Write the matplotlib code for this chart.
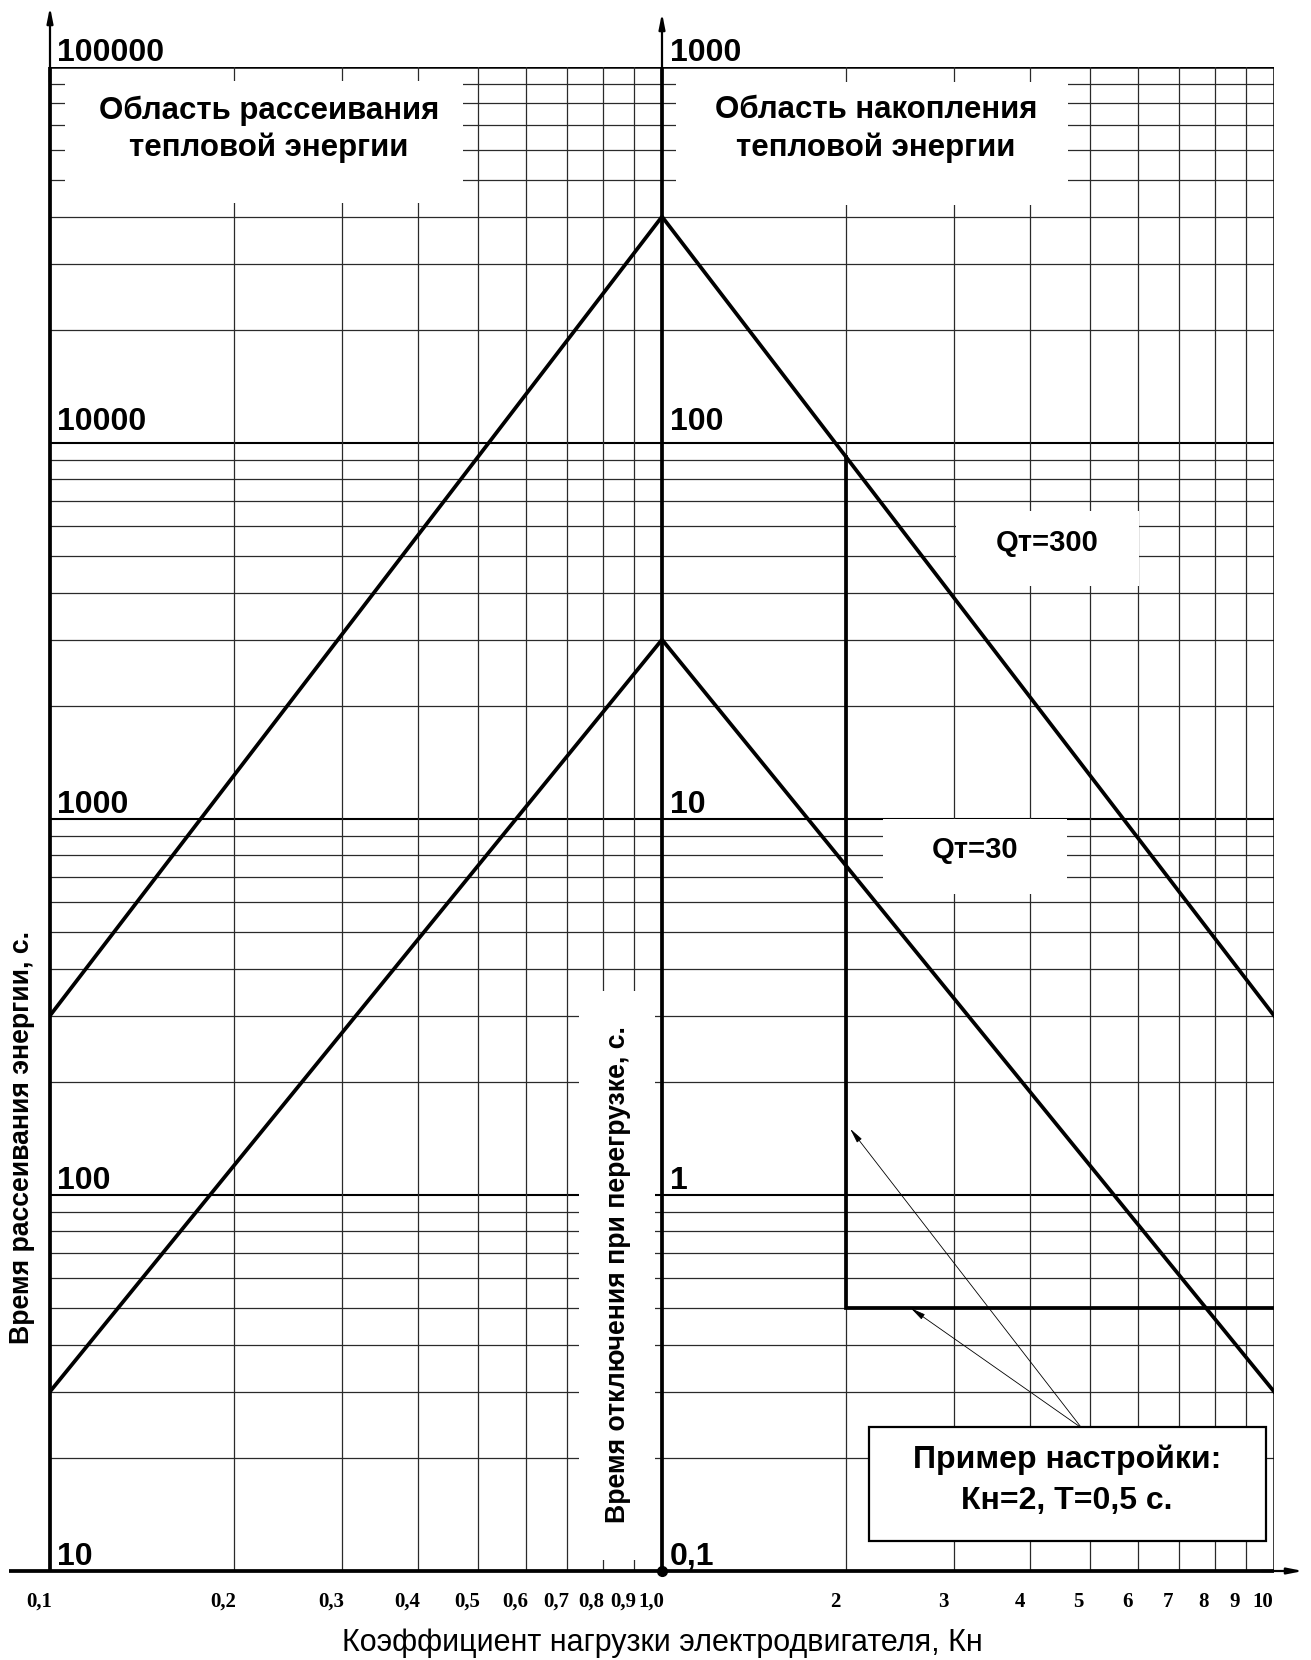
import numpy as np
import matplotlib.pyplot as plt
import matplotlib.transforms as mtransforms
from matplotlib.patches import Rectangle

plt.rcParams['font.family'] = ['Liberation Sans', 'DejaVu Sans']

# --- data -------------------------------------------------------------
kn = [0.1, 1.0, 10.0]
t_q300 = [3.0, 400.0, 3.0]      # seconds, right-hand scale
t_q30 = [0.3, 30.0, 0.3]
example_kn = 2.0
example_t = 0.5
arrow_from = (4.85, 0.24)
arrow_to = [(2.03, 1.5), (2.55, 0.5)]

x_ticks = [0.1, 0.2, 0.3, 0.4, 0.5, 0.6, 0.7, 0.8, 0.9, 1.0,
           2, 3, 4, 5, 6, 7, 8, 9, 10]
x_tick_labels = ['0,1', '0,2', '0,3', '0,4', '0,5', '0,6', '0,7', '0,8', '0,9', '1,0',
                 '2', '3', '4', '5', '6', '7', '8', '9', '10']
y_decades = [0.1, 1, 10, 100, 1000]
left_labels = ['10', '100', '1000', '10000', '100000']
right_labels = ['0,1', '1', '10', '100', '1000']

# --- layout (pixels of the 1311x1660 picture) ---------------------------
W, H = 1311, 1660
AX_L, AX_R, AX_B, AX_T = 50, 1274, 1571, 67
LW = 2.7


def frac(px, py):
    return (px - AX_L) / (AX_R - AX_L), (AX_B - py) / (AX_B - AX_T)


def white_box(x0, y0, x1, y1, edge='none', z=2):
    fx0, fy1 = frac(x0, y1)
    fx1, fy0 = frac(x1, y0)
    ax.add_patch(Rectangle((fx0, fy1), fx1 - fx0, fy0 - fy1, transform=ax.transAxes,
                           facecolor='white', edgecolor=edge, lw=1.6, zorder=z, clip_on=False))


fig = plt.figure(figsize=(W / 100, H / 100), dpi=100)
ax = fig.add_axes([AX_L / W, 1 - AX_B / H, (AX_R - AX_L) / W, (AX_B - AX_T) / H])
ax.set_xscale('log')
ax.set_yscale('log')
ax.set_xlim(0.1, 10)
ax.set_ylim(0.1, 1000)
ax.axis('off')

# grid
for d in y_decades[:-1]:
    for m in range(1, 10):
        if m == 1:
            ax.axhline(d, color='black', lw=1.5, zorder=1)
        else:
            ax.axhline(d * m, color='#2a2a2a', lw=0.9, zorder=1)
ax.axhline(1000, color='black', lw=1.8, zorder=1)
for x in x_ticks:
    if x not in (0.1, 1.0, 10):
        ax.axvline(x, color='#2a2a2a', lw=0.9, zorder=1)
ax.axvline(10, color='black', lw=1.8, zorder=1)

# white areas under the captions
white_box(65, 81, 463, 203)
white_box(676, 82, 1068, 205)
white_box(956, 511, 1139, 586)
white_box(883, 819, 1067, 894)
white_box(579, 991, 655, 1560)

# axes with arrows
axis_kw = dict(color='black', lw=LW, transform=ax.transAxes, clip_on=False, zorder=5,
               solid_capstyle='butt')
ax.plot([frac(9, 0)[0], 1.0], [0, 0], **axis_kw)
ax.plot([0, 0], [0, 1.0], **axis_kw)
ax.plot([0.5, 0.5], [0, 1.0], **axis_kw)
head = dict(arrowstyle='-|>,head_length=0.9,head_width=0.18', color='black', lw=1.6,
            shrinkA=0, shrinkB=0)
ax.annotate('', xy=(frac(1303, 0)[0], 0), xytext=(0.99, 0), xycoords='axes fraction',
            arrowprops=head, annotation_clip=False, zorder=5)
ax.annotate('', xy=(0, frac(0, 7)[1]), xytext=(0, 0.99), xycoords='axes fraction',
            arrowprops=head, annotation_clip=False, zorder=5)
ax.annotate('', xy=(0.5, frac(0, 13)[1]), xytext=(0.5, 0.99), xycoords='axes fraction',
            arrowprops=head, annotation_clip=False, zorder=5)
ax.plot([1.0], [0.1], 'o', color='black', ms=7, clip_on=False, zorder=6)

# characteristic curves
ax.plot(kn, t_q300, color='black', lw=LW, zorder=3)
ax.plot(kn, t_q30, color='black', lw=LW, zorder=3)

# example setting
t_cross = 10 ** np.interp(np.log10(example_kn), np.log10(kn), np.log10(t_q300))
ax.plot([example_kn, example_kn, 10], [t_cross, example_t, example_t],
        color='black', lw=LW, zorder=3, solid_joinstyle='miter')
for tip in arrow_to:
    ax.annotate('', xy=tip, xytext=arrow_from,
                arrowprops=dict(arrowstyle='-|>,head_length=0.9,head_width=0.18',
                                color='black', lw=0.6, shrinkA=0, shrinkB=0), zorder=4)
white_box(869, 1427, 1266, 1541, edge='black', z=4)

# value labels on the two vertical scales
blend = mtransforms.blended_transform_factory(ax.transAxes, ax.transData)
for i, (y, lab_l, lab_r) in enumerate(zip(y_decades, left_labels, right_labels)):
    dy = 13 if i == 3 else 6
    tr = mtransforms.offset_copy(blend, fig=fig, y=dy, units='dots')
    ax.text(frac(57, 0)[0], y, lab_l, transform=tr, fontsize=23, fontweight='bold',
            ha='left', va='baseline', zorder=5)
    ax.text(frac(670, 0)[0], y, lab_r, transform=tr, fontsize=23, fontweight='bold',
            ha='left', va='baseline', zorder=5)

# x tick labels
xt = mtransforms.offset_copy(mtransforms.blended_transform_factory(ax.transData, ax.transAxes),
                             fig=fig, x=-11, units='dots')
for x, lab in zip(x_ticks, x_tick_labels):
    ax.text(x, frac(0, 1602)[1], lab, transform=xt, family='Liberation Serif',
            fontsize=15, fontweight='bold', ha='center', va='center')

# captions
ax.text(*frac(269, 129), 'Область рассеивания\nтепловой энергии', transform=ax.transAxes,
        fontsize=22.5, fontweight='bold', ha='center', va='center', linespacing=1.28, zorder=5)
ax.text(*frac(876, 129), 'Область накопления\nтепловой энергии', transform=ax.transAxes,
        fontsize=22.5, fontweight='bold', ha='center', va='center', linespacing=1.28, zorder=5)
ax.text(*frac(1047, 543), 'Qт=300', transform=ax.transAxes,
        fontsize=21, fontweight='bold', ha='center', va='center', zorder=5)
ax.text(*frac(975, 850), 'Qт=30', transform=ax.transAxes,
        fontsize=21, fontweight='bold', ha='center', va='center', zorder=5)
ax.text(*frac(1067, 1480), 'Пример настройки:\nКн=2, Т=0,5 с.', transform=ax.transAxes,
        fontsize=23, fontweight='bold', ha='center', va='center', linespacing=1.48, zorder=6)

# axis titles
ax.text(*frac(22, 1137), 'Время рассеивания энергии, с.', transform=ax.transAxes,
        fontsize=19.2, fontweight='bold', rotation=90, ha='center', va='center')
ax.text(*frac(618, 1275), 'Время отключения при перегрузке, с.', transform=ax.transAxes,
        fontsize=19.2, fontweight='bold', rotation=90, ha='center', va='center', zorder=5)
ax.text(*frac(662, 1643), 'Коэффициент нагрузки электродвигателя, Кн', transform=ax.transAxes,
        fontsize=22, ha='center', va='center')

fig.savefig('out.png', dpi=100)
